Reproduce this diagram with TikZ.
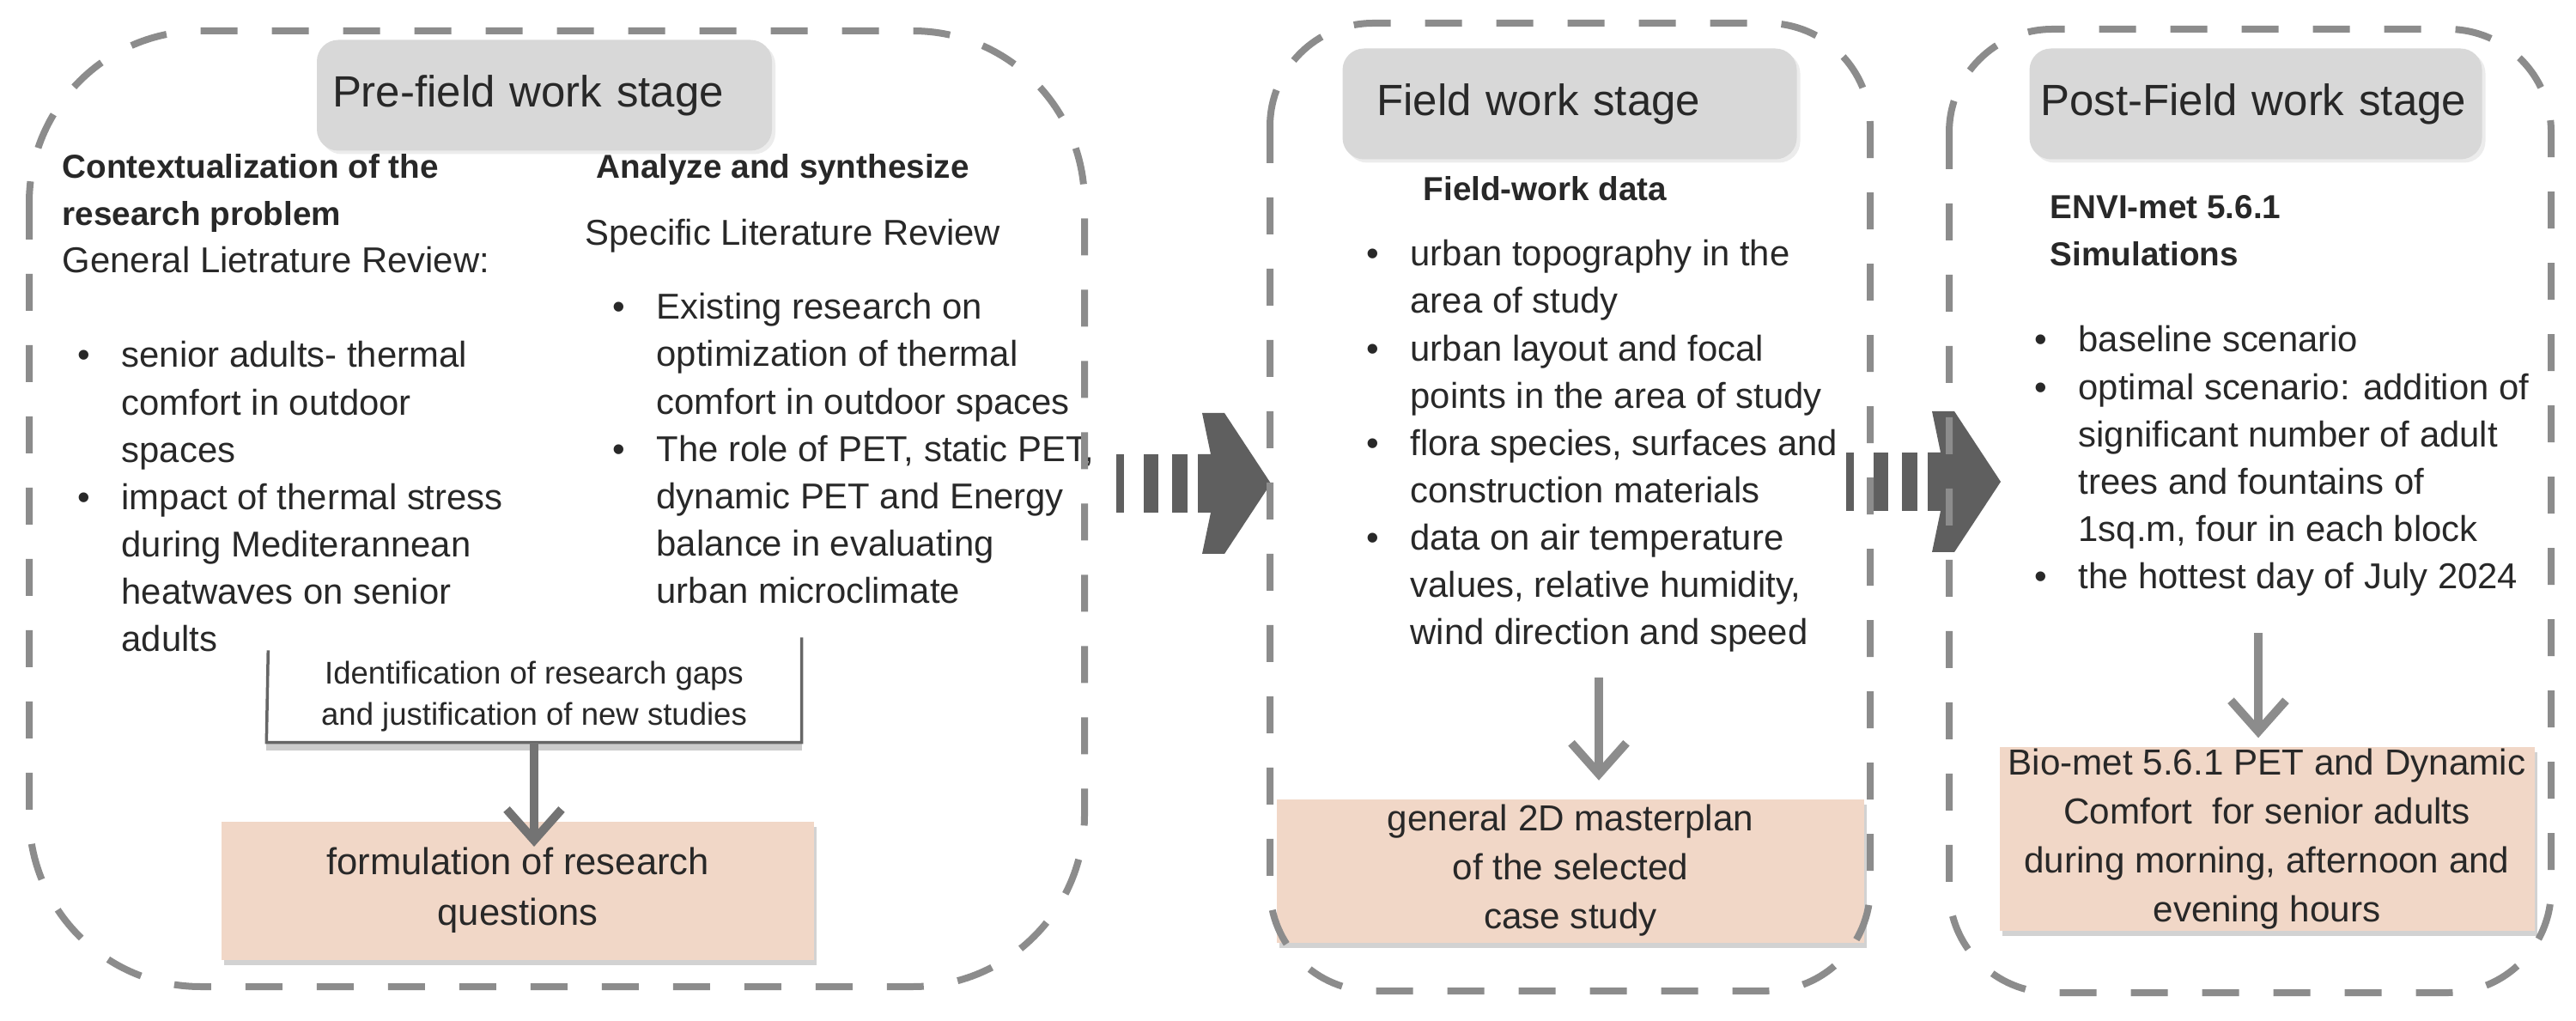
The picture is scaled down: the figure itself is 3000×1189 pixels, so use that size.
\documentclass[tikz,border=0pt]{standalone}
\usepackage{fontspec}
\setmainfont{Liberation Sans}
\usepackage{tikz}
\usetikzlibrary{arrows,arrows.meta,shapes,positioning,shadows}
\usepackage{xcolor}
\definecolor{framegray}{RGB}{140,140,140}
\definecolor{titlegray}{RGB}{216,216,216}
\definecolor{notepink}{RGB}{241,215,199}
\definecolor{arrowgray}{RGB}{95,95,95}
\definecolor{textgray}{RGB}{40,40,40}
\newlength\bulw \setlength\bulw{5.1mm}
\newcommand\bul{\makebox[\bulw][l]{\textbullet}}
\newcommand\bodyfont{\fontsize{11.9}{15.65}\selectfont}
\newcommand\headfont{\fontsize{11}{15.65}\selectfont\bfseries}
\tikzstyle{stageframe} = [draw=framegray, line width=0.8mm, dash pattern=on 4.3mm off 4mm]
\tikzstyle{stagetitle} = [rectangle, rounded corners=2.5mm, fill=titlegray, inner ysep=0pt,
    minimum height=12.9mm, align=left, font=\fontsize{14.5}{17}\selectfont, text=textgray,
    drop shadow={shadow xshift=0.4mm, shadow yshift=-0.4mm, opacity=0.15}]
\tikzstyle{listtext} = [inner sep=0pt, anchor=base west, font=\bodyfont, text=textgray]
\tikzstyle{notebox} = [rectangle, fill=notepink, align=center, inner sep=0pt, text=textgray,
    drop shadow={shadow xshift=0.3mm, shadow yshift=-0.6mm, opacity=0.35}]
\tikzstyle{downarrow} = [line width=1mm, draw=black!45, -{Straight Barb[length=3.6mm, width=6.4mm, line width=1mm]}]
\tikzset{stagearrow/.pic={
    \foreach \a/\b in {0/9, 32/49, 65/83}
        \fill[arrowgray] (\a,-34) rectangle (\b,34);
    \fill[arrowgray] (95,-34) -- (110,-34) -- (100,-82) -- (126,-82) -- (180,0)
        -- (126,82) -- (100,82) -- (110,34) -- (95,34) -- cycle;
}}

\begin{document}
\begin{tikzpicture}[x=0.1mm, y=-0.1mm, >=stealth]
\useasboundingbox (0,0) rectangle (3000,1189);
\fill[white] (0,0) rectangle (3000,1189);

% stage titles
\node[stagetitle, text width=49.4mm, inner xsep=1.8mm] (pretitle) at (634,111) {Pre-field work stage};
\node[stagetitle, text width=44.9mm, inner xsep=4mm] (fieldtitle) at (1828,121) {Field work stage};
\node[stagetitle, text width=50.1mm, inner xsep=1.3mm] (posttitle) at (2627,121) {Post-Field work stage};

% pre-field work stage
\node[listtext] (ctxhead) at (72,208) {\begin{tabular}[t]{@{}l@{}}
    {\headfont Contextualization of the}\\
    {\headfont research problem}\\
    General Lietrature Review:
\end{tabular}};
\node[listtext] (ctxlist) at (90,428) {\begin{tabular}[t]{@{}l@{}l@{}}
    \bul & senior adults- thermal\\
         & comfort in outdoor\\
         & spaces\\
    \bul & impact of thermal stress\\
         & during Mediterannean\\
         & heatwaves on senior\\
         & adults
\end{tabular}};
\node[listtext, font=\headfont] (synhead) at (694,208) {Analyze and synthesize};
\node[listtext] (synsub) at (681,286) {Specific Literature Review};
\node[listtext] (synlist) at (713,372) {\begin{tabular}[t]{@{}l@{}l@{}}
    \bul & Existing research on\\
         & optimization of thermal\\
         & comfort in outdoor spaces\\
    \bul & The role of PET, static PET,\\
         & dynamic PET and Energy\\
         & balance in evaluating\\
         & urban microclimate
\end{tabular}};
\node[inner sep=0pt, minimum width=62.2mm, minimum height=10.6mm, align=center,
    font=\fontsize{10.4}{13.4}\selectfont, text=textgray] (gaps) at (622,811)
    {Identification of research gaps\\and justification of new studies};
\draw[black!20, line width=0.9mm] ([yshift=-0.5mm]gaps.south west) -- ([yshift=-0.5mm]gaps.south east);
\draw[black!60, line width=0.35mm] ([xshift=0.2mm]gaps.north west) -- (gaps.south west)
    -- (gaps.south east) -- ([yshift=1.5mm]gaps.north east);
\node[notebox, minimum width=69mm, minimum height=16.1mm, font=\fontsize{12.4}{16.8}\selectfont]
    (questions) at (603,1037) {formulation of research\\questions};
\coordinate (qtip) at (622,986);
\draw[downarrow, draw=black!55] (gaps.south) -- (qtip);

% field work stage
\node[listtext, font=\headfont] (fieldhead) at (1657,234) {Field-work data};
\node[listtext] (fieldlist) at (1591,310) {\begin{tabular}[t]{@{}l@{}l@{}}
    \bul & urban topography in the\\
         & area of study\\
    \bul & urban layout and focal\\
         & points in the area of study\\
    \bul & flora species, surfaces and\\
         & construction materials\\
    \bul & data on air temperature\\
         & values, relative humidity,\\
         & wind direction and speed
\end{tabular}};
\node[notebox, minimum width=68.4mm, minimum height=16.7mm, font=\fontsize{12}{16.2}\selectfont]
    (masterplan) at (1829,1014) {general 2D masterplan\\of the selected\\case study};
\coordinate (fstart) at (1862,789);
\draw[downarrow, shorten >=2.1mm] (fstart) -- (fstart |- masterplan.north);

% post-field work stage
\node[listtext] (simhead) at (2387,255) {\begin{tabular}[t]{@{}l@{}}
    {\headfont ENVI-met 5.6.1}\\
    {\headfont Simulations}
\end{tabular}};
\node[listtext] (simlist) at (2369,410) {\begin{tabular}[t]{@{}l@{}l@{}}
    \bul & baseline scenario\\
    \bul & optimal scenario: addition of\\
         & significant number of adult\\
         & trees and fountains of\\
         & 1sq.m, four in each block\\
    \bul & the hottest day of July 2024
\end{tabular}};
\node[notebox, minimum width=62.3mm, minimum height=21.4mm, font=\fontsize{12}{16.2}\selectfont]
    (biomet) at (2640,977) {Bio-met 5.6.1 PET and Dynamic\\Comfort~ for senior adults\\during morning, afternoon and\\evening hours};
\coordinate (sstart) at (2630,737);
\draw[downarrow, shorten >=1mm] (sstart) -- (sstart |- biomet.north);

% stage arrows
\pic at (1300,563) {stagearrow};
\pic at (2150,561) {stagearrow};

% stage frames
\draw[stageframe, rounded corners=20mm] (34,36) rectangle (1263,1149);
\draw[stageframe, rounded corners=12mm] (1479,27) rectangle (2178,1154);
\draw[stageframe, rounded corners=12mm] (2270,34) rectangle (2971,1156);
\end{tikzpicture}
\end{document}
